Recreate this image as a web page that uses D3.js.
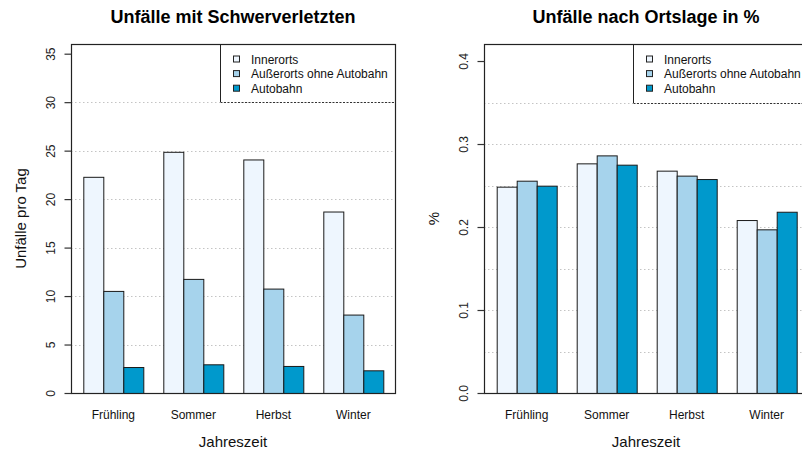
<!DOCTYPE html>
<html>
<head>
<meta charset="utf-8">
<script src="https://cdn.jsdelivr.net/npm/d3@7"></script>
<style>
  html, body { margin: 0; padding: 0; background: #ffffff; }
  svg { display: block; font-family: "Liberation Sans", Arial, Helvetica, sans-serif; }
</style>
</head>
<body>
<div id="chart"></div>
<script>
// Seasons and location categories
const seasons = ["Frühling", "Sommer", "Herbst", "Winter"];
const locations = ["Innerorts", "Außerorts ohne Autobahn", "Autobahn"];
const colors = ["#eef6fe", "#a6d3ec", "#0099cc"];

// Accidents with seriously injured, per day
const perDayInnerorts = [22.3, 24.88, 24.09, 18.72];
const perDayAusserorts = [10.53, 11.77, 10.77, 8.09];
const perDayAutobahn = [2.68, 2.96, 2.79, 2.34];

// Share of each season per location
const shareInnerorts = [0.2486, 0.2767, 0.2679, 0.2084];
const shareAusserorts = [0.2558, 0.2863, 0.2619, 0.1972];
const shareAutobahn = [0.2498, 0.2751, 0.2578, 0.2184];

// Axis ticks and grid levels
const leftTicks = [0, 5, 10, 15, 20, 25, 30, 35];
const leftGrid = [5, 10, 15, 20, 25, 30];
const rightTicks = [0, 0.1, 0.2, 0.3, 0.4];
const rightGrid = [0.05, 0.1, 0.15, 0.2, 0.25, 0.3, 0.35];

const W = 802, H = 454;
const svg = d3.select("#chart").append("svg")
  .attr("width", W).attr("height", H)
  .attr("viewBox", `0 0 ${W} ${H}`);
svg.append("rect").attr("width", W).attr("height", H).attr("fill", "#fff");

svg.append("defs").append("clipPath").attr("id", "page")
  .append("rect").attr("width", W).attr("height", H);

function panel(opts) {
  const { boxLeft, boxRight, top, bottom, bandRange, yMax, title, yLabel,
          values, ticks, grid, tickFmt, legendLeft } = opts;

  const g = svg.append("g").attr("clip-path", "url(#page)");

  const x0 = d3.scaleBand().domain(seasons).range(bandRange)
    .paddingInner(0.25).paddingOuter(0.125);
  const x1 = d3.scaleBand().domain(locations).range([0, x0.bandwidth()]).padding(0);
  const y = d3.scaleLinear().domain([0, yMax]).range([bottom, top]);

  // dotted grid
  g.append("g").selectAll("line").data(grid).join("line")
    .attr("x1", boxLeft).attr("x2", boxRight)
    .attr("y1", d => Math.round(y(d)) + 0.5).attr("y2", d => Math.round(y(d)) + 0.5)
    .attr("stroke", "#c4c4c4").attr("stroke-width", 1)
    .attr("stroke-dasharray", "1.5,2.5");

  // bars
  const rows = seasons.map((s, i) => ({ season: s, vals: values.map(v => v[i]) }));
  g.append("g").selectAll("g").data(rows).join("g")
    .attr("transform", d => `translate(${x0(d.season)},0)`)
    .selectAll("rect").data(d => d.vals.map((v, j) => ({ loc: locations[j], v, j })))
    .join("rect")
    .attr("x", d => x1(d.loc) + 0.5)
    .attr("width", x1.bandwidth())
    .attr("y", d => y(d.v) + 0.5)
    .attr("height", d => y(0) - y(d.v))
    .attr("fill", d => colors[d.j])
    .attr("stroke", "#1a1a1a").attr("stroke-width", 1);

  // legend
  const lg = g.append("g");
  const legBottom = Math.round(y(grid[grid.length - 1]));
  lg.append("rect").attr("x", legendLeft + 0.5).attr("y", top + 0.5)
    .attr("width", boxRight - legendLeft).attr("height", legBottom - top)
    .attr("fill", "#fff").attr("stroke", "none");
  lg.append("path")
    .attr("d", `M${boxRight},${top + 0.5}H${legendLeft + 0.5}V${legBottom}`)
    .attr("fill", "none").attr("stroke", "#222").attr("stroke-width", 1);
  lg.append("line").attr("x1", legendLeft + 0.5).attr("x2", boxRight)
    .attr("y1", legBottom + 0.5).attr("y2", legBottom + 0.5)
    .attr("stroke", "#333").attr("stroke-width", 1).attr("stroke-dasharray", "2,1.5");
  const items = lg.selectAll("g.item").data(locations).join("g")
    .attr("class", "item")
    .attr("transform", (d, i) => `translate(${legendLeft}, ${top + 15.5 + i * 14.6})`);
  items.append("rect").attr("x", 13.5).attr("y", -3.5).attr("width", 6).attr("height", 6)
    .attr("fill", (d, i) => colors[i]).attr("stroke", "#222").attr("stroke-width", 1);
  items.append("text").attr("x", 31).attr("y", 0).attr("dy", "0.35em")
    .attr("font-size", 12).attr("fill", "#111").text(d => d);

  // plot box
  g.append("rect").attr("x", boxLeft + 0.5).attr("y", top + 0.5)
    .attr("width", boxRight - boxLeft).attr("height", bottom - top)
    .attr("fill", "none").attr("stroke", "#222").attr("stroke-width", 1.2);

  // y axis
  const ax = g.append("g").attr("transform", `translate(${boxLeft + 0.5},0)`)
    .call(d3.axisLeft(y).tickValues(ticks).tickSize(7).tickFormat(tickFmt));
  ax.select(".domain").remove();
  ax.selectAll(".tick line").attr("stroke", "#333").attr("stroke-width", 1.2);
  ax.selectAll(".tick text")
    .attr("x", null)
    .attr("text-anchor", "middle")
    .attr("transform", "translate(-20.5,0) rotate(-90)")
    .attr("dy", "0.35em")
    .attr("font-size", 12).attr("fill", "#222")
    .attr("font-family", "Liberation Sans, Arial, sans-serif");

  // category labels
  const xa = g.append("g").attr("transform", `translate(0,${bottom})`)
    .call(d3.axisBottom(x0).tickSize(0).tickPadding(17));
  xa.select(".domain").remove();
  xa.selectAll("text").attr("font-size", 12).attr("fill", "#111")
    .attr("font-family", "Liberation Sans, Arial, sans-serif");

  const cx = (boxLeft + boxRight) / 2;
  // titles
  g.append("text").attr("x", cx).attr("y", 23).attr("text-anchor", "middle")
    .attr("font-size", 18).attr("font-weight", "bold").attr("fill", "#000").text(title);
  g.append("text").attr("x", cx).attr("y", 447).attr("text-anchor", "middle")
    .attr("font-size", 15).attr("fill", "#111").text("Jahreszeit");
  g.append("text")
    .attr("transform", `translate(${boxLeft - 50.5},${(top + bottom) / 2}) rotate(-90)`)
    .attr("text-anchor", "middle").attr("dy", "0.35em")
    .attr("font-size", 15).attr("fill", "#111").text(yLabel);
}

panel({
  boxLeft: 71, boxRight: 395, top: 44, bottom: 393,
  bandRange: [73.3, 393.3], yMax: 36,
  title: "Unfälle mit Schwerverletzten", yLabel: "Unfälle pro Tag",
  values: [perDayInnerorts, perDayAusserorts, perDayAutobahn],
  ticks: leftTicks, grid: leftGrid, tickFmt: d3.format("d"), legendLeft: 220
});

panel({
  boxLeft: 484, boxRight: 808, top: 44, bottom: 393,
  bandRange: [486.7, 806.7], yMax: 0.4205,
  title: "Unfälle nach Ortslage in %", yLabel: "%",
  values: [shareInnerorts, shareAusserorts, shareAutobahn],
  ticks: rightTicks, grid: rightGrid, tickFmt: d3.format(".1f"), legendLeft: 633
});
</script>
</body>
</html>
